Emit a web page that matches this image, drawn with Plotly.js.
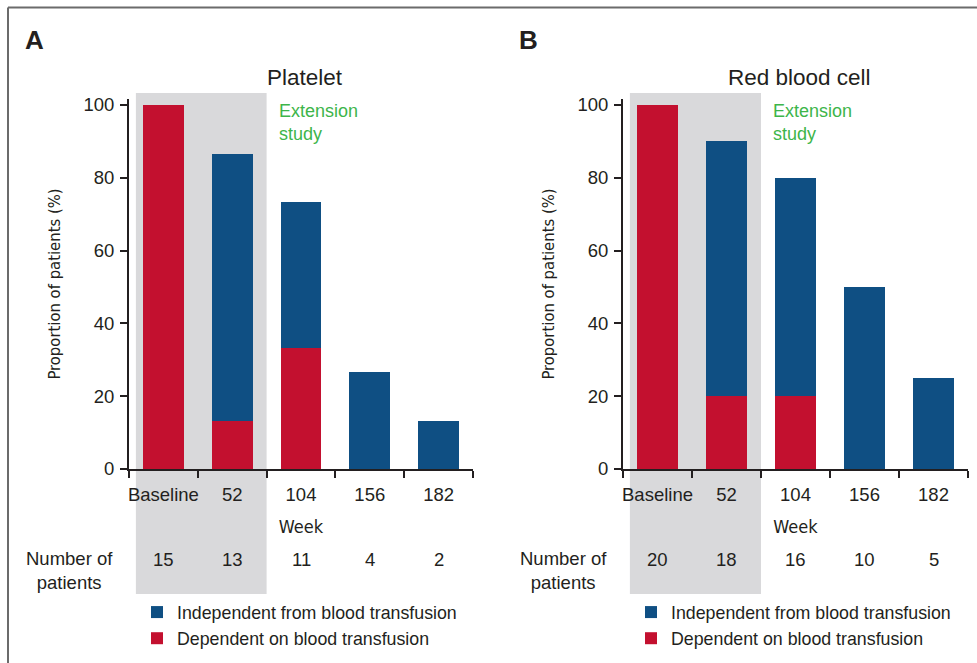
<!DOCTYPE html>
<html>
<head>
<meta charset="utf-8">
<script src="https://cdn.plot.ly/plotly-3.0.1.min.js"></script>
<style>html,body{margin:0;padding:0;background:#fff;}#chart{width:977px;height:663px;}</style>
</head>
<body>
<div id="chart"></div>
<script>
// ---- data ----
var weeks = ['Baseline', '52', '104', '156', '182'];
var plateletDependent = [100, 13.3, 33.3, 0, 0];
var plateletIndependent = [0, 73.3, 40, 26.7, 13.3];
var rbcDependent = [100, 20, 20, 0, 0];
var rbcIndependent = [0, 70, 60, 50, 25];
var plateletPatients = [15, 13, 11, 4, 2];
var rbcPatients = [20, 18, 16, 10, 5];
var yTicks = [0, 20, 40, 60, 80, 100];
var seriesNames = ['Dependent on blood transfusion', 'Independent from blood transfusion'];
var panelTitles = ['Platelet', 'Red blood cell'];
var panelLetters = ['A', 'B'];

// ---- style ----
var W = 977, H = 663;
var RED = '#C3102F', BLUE = '#0F4F83', GREEN = '#3DB54A', INK = '#231F20', GRAY = '#D9D9DB';
var FONT = 'Liberation Sans, Arial, Helvetica, sans-serif';
var NARROW = 'Liberation Sans Narrow, DejaVu Sans Condensed, Liberation Sans, sans-serif';
function px(x) { return x / W; }
function py(y) { return 1 - y / H; }

var panels = [
  {dep: plateletDependent, ind: plateletIndependent, n: plateletPatients, x0: 129, x1: 473, xa: 'x', ya: 'y', leg: 'legend', letterX: 23, titleX: 305, extX: 277, nLabelX: 69},
  {dep: rbcDependent, ind: rbcIndependent, n: rbcPatients, x0: 623, x1: 968, xa: 'x2', ya: 'y2', leg: 'legend2', letterX: 517, titleX: 799, extX: 771, nLabelX: 563}
];

var traces = [], shapes = [], annotations = [];
var layout = {
  width: W, height: H,
  margin: {l: 0, r: 0, t: 0, b: 0},
  paper_bgcolor: '#fff', plot_bgcolor: 'rgba(0,0,0,0)',
  barmode: 'stack',
  bargap: 0.406,
  font: {family: FONT, color: INK, size: 18},
  hovermode: false
};

panels.forEach(function (p, i) {
  traces.push({
    type: 'bar', x: weeks, y: p.dep, name: seriesNames[0],
    marker: {color: RED, line: {width: 0}},
    xaxis: p.xa, yaxis: p.ya, legend: p.leg, legendgroup: 'dep' + i
  });
  traces.push({
    type: 'bar', x: weeks, y: p.ind, name: seriesNames[1],
    marker: {color: BLUE, line: {width: 0}},
    xaxis: p.xa, yaxis: p.ya, legend: p.leg, legendgroup: 'ind' + i
  });

  var sfx = i === 0 ? '' : '2';
  layout['xaxis' + sfx] = {
    domain: [px(p.x0), px(p.x1)],
    anchor: p.ya,
    type: 'category',
    range: [-0.5, 4.5],
    showline: true, linecolor: INK, linewidth: 2,
    ticks: 'outside', tickson: 'boundaries', ticklen: 7, tickwidth: 2, tickcolor: INK,
    tickangle: 0, ticklabelstandoff: 8,
    showgrid: false, zeroline: false,
    tickfont: {family: FONT, size: 18.5, color: INK},
    title: {text: 'Week', font: {family: NARROW, size: 18, color: INK}, standoff: 16},
    fixedrange: true
  };
  layout['yaxis' + sfx] = {
    domain: [py(469), py(99)],
    anchor: p.xa,
    range: [0, 101.65],
    tickvals: yTicks,
    showline: true, linecolor: INK, linewidth: 2,
    ticks: 'outside', ticklen: 7, tickwidth: 2, tickcolor: INK,
    showgrid: false, zeroline: false,
    tickfont: {family: FONT, size: 18.5, color: INK},
    ticklabelstandoff: 2,
    title: {text: 'Proportion of patients (%)', font: {family: NARROW, size: 16.5, color: INK}, standoff: 19},
    fixedrange: true
  };

  // extension-study shading
  shapes.push({
    type: 'rect', xref: p.xa, yref: 'paper', layer: 'below',
    x0: -0.4, x1: 1.5, y0: py(594), y1: py(93),
    fillcolor: GRAY, line: {width: 0}
  });

  annotations.push({
    text: '<b>' + panelLetters[i] + '</b>', xref: 'paper', yref: 'paper',
    x: px(p.letterX), y: py(40), xanchor: 'left', yanchor: 'middle', showarrow: false,
    font: {family: FONT, size: 26, color: INK}
  });
  annotations.push({
    text: panelTitles[i], xref: 'paper', yref: 'paper',
    x: px(p.titleX), y: py(77), xanchor: 'center', yanchor: 'middle', showarrow: false,
    font: {family: FONT, size: 22.5, color: INK}
  });
  annotations.push({
    text: 'Extension<br>study', xref: 'paper', yref: 'paper', align: 'left',
    x: px(p.extX), y: py(122), xanchor: 'left', yanchor: 'middle', showarrow: false,
    font: {family: FONT, size: 18, color: GREEN}
  });
  annotations.push({
    text: 'Number of<br>patients', xref: 'paper', yref: 'paper', align: 'center',
    x: px(p.nLabelX), y: py(570), xanchor: 'center', yanchor: 'middle', showarrow: false,
    font: {family: FONT, size: 18.5, color: INK}
  });
  p.n.forEach(function (v, k) {
    annotations.push({
      text: String(v), xref: p.xa, yref: 'paper',
      x: k, y: py(559), xanchor: 'center', yanchor: 'middle', showarrow: false,
      font: {family: FONT, size: 18.5, color: INK}
    });
  });

  layout[p.leg] = {
    x: px(p.x0 + 8), y: py(594), xanchor: 'left', yanchor: 'top',
    traceorder: 'reversed', tracegroupgap: 10,
    bgcolor: 'rgba(0,0,0,0)', borderwidth: 0,
    font: {family: FONT, size: 17.8, color: INK}
  };
});

// outer frame
shapes.push({type: 'line', xref: 'paper', yref: 'paper', x0: px(8), x1: 1, y0: py(7.5), y1: py(7.5), line: {color: '#6B6B6B', width: 2}});
shapes.push({type: 'line', xref: 'paper', yref: 'paper', x0: px(8), x1: px(8), y0: py(7.5), y1: 0, line: {color: '#6B6B6B', width: 2}});

layout.shapes = shapes;
layout.annotations = annotations;

Plotly.newPlot('chart', traces, layout, {displayModeBar: false, staticPlot: true});
</script>
</body>
</html>
